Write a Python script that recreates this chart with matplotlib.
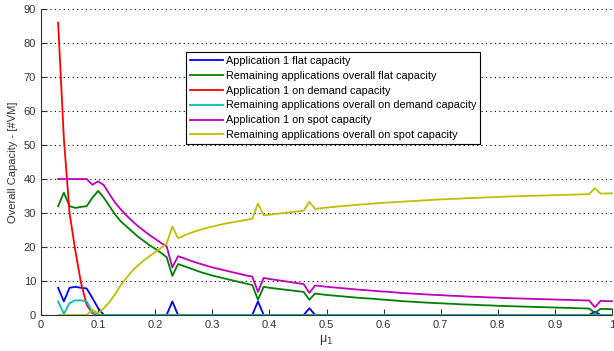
import numpy as np
import matplotlib
matplotlib.use("Agg")
import matplotlib.pyplot as plt

plt.rcParams['font.family'] = ['Liberation Sans', 'DejaVu Sans']

mu = np.round(np.arange(0.03, 1.0001, 0.01), 2)

app1_flat = ([8, 4, 8, 8.3, 8, 7.8, 5, 2] + [0] * 12 + [4] + [0] * 14 + [4] + [0] * 8
             + [2] + [0] * 49 + [1] + [0] * 3)

rem_flat = [32, 36, 32, 31.5, 31.8, 32, 34.5, 36.5, 34.5, 32, 29.5, 27.5, 26, 24.5, 23, 21.8,
            20.5, 19.5, 18.3, 17, 11.5, 15, 14.4, 13.8, 13.2, 12.6, 12.1, 11.6, 11.2, 10.8, 10.4,
            10, 9.6, 9.2, 8.8, 4.5, 8.3, 8.0, 7.8, 7.6, 7.4, 7.2, 7.0, 6.8, 4.5, 6.3, 6.1, 5.9,
            5.75, 5.6, 5.45, 5.3, 5.15, 5.0, 4.9, 4.8, 4.65, 4.5, 4.4, 4.25, 4.1, 4.0, 3.9, 3.8,
            3.7, 3.6, 3.5, 3.45, 3.35, 3.3, 3.2, 3.1, 3.05, 3.0, 2.9, 2.85, 2.8, 2.7, 2.65, 2.6,
            2.55, 2.5, 2.45, 2.4, 2.35, 2.3, 2.25, 2.2, 2.15, 2.1, 2.05, 2.0, 1.95, 1.9, 0.6,
            1.8, 1.75, 1.7]

app1_ondemand = [86, 52, 30, 19, 9.5, 3, 0.5, 0] + [0] * 90

rem_ondemand = [4, 0.3, 3.5, 4.3, 4.3, 4, 0.8, 0] + [0] * 90

app1_spot = [40, 40, 40, 40, 40, 40, 38.3, 39.3, 38.2, 35.5, 33, 31, 29.2, 27.6, 26.1, 24.8,
             23.5, 22.4, 21.2, 20.2, 14, 17.3, 16.7, 16.1, 15.5, 15, 14.5, 14, 13.6, 13.2, 12.8,
             12.4, 12.0, 11.6, 11.3, 6.8, 10.9, 10.6, 10.35, 10.1, 9.85, 9.6, 9.35, 9.1, 6.5,
             8.7, 8.5, 8.3, 8.15, 8.0, 7.85, 7.7, 7.55, 7.4, 7.3, 7.15, 7.0, 6.9, 6.8, 6.65, 6.5,
             6.4, 6.3, 6.2, 6.1, 6.0, 5.9, 5.85, 5.75, 5.65, 5.6, 5.5, 5.4, 5.35, 5.3, 5.2, 5.15,
             5.1, 5.0, 4.95, 4.9, 4.85, 4.8, 4.75, 4.7, 4.65, 4.6, 4.55, 4.5, 4.45, 4.4, 4.35,
             4.3, 4.25, 2.3, 4.15, 4.1, 4.05]

rem_spot = [0, 0, 0, 0, 0, 0, 1.5, 0.5, 2, 3.8, 6.2, 8.8, 11, 13, 14.6, 16, 17.3, 18.5, 19.7,
            21, 26, 22.6, 23.3, 24, 24.6, 25.1, 25.6, 26, 26.4, 26.8, 27.1, 27.4, 27.7, 28,
            28.3, 32.8, 29.3, 29.5, 29.7, 29.9, 30.1, 30.3, 30.5, 30.7, 33.3, 31.2, 31.4, 31.6,
            31.75, 31.9, 32.05, 32.2, 32.35, 32.5, 32.6, 32.75, 32.9, 33.0, 33.1, 33.2, 33.3,
            33.4, 33.5, 33.6, 33.7, 33.8, 33.9, 34.0, 34.05, 34.15, 34.2, 34.3, 34.4, 34.45,
            34.5, 34.6, 34.65, 34.7, 34.8, 34.85, 34.9, 34.95, 35.0, 35.05, 35.1, 35.15, 35.2,
            35.25, 35.3, 35.35, 35.4, 35.45, 35.5, 35.55, 37.3, 35.7, 35.75, 35.8]

labels = ["Application 1 flat capacity",
          "Remaining applications overall flat capacity",
          "Application 1 on demand capacity",
          "Remaining applications overall on demand capacity",
          "Application 1 on spot capacity",
          "Remaining applications overall on spot capacity"]
colors = ["#0000ff", "#008000", "#ff0000", "#00bfbf", "#bf00bf", "#bfbf00"]
series = [app1_flat, rem_flat, app1_ondemand, rem_ondemand, app1_spot, rem_spot]

fig = plt.figure(figsize=(6.14, 3.51), dpi=100)
ax = fig.add_axes([41 / 614, 1 - 315 / 351, 571 / 614, 306 / 351])

for s, c, l in zip(series, colors, labels):
    ax.plot(mu, s, color=c, lw=1.3, label=l, clip_on=False)

ax.set_xlim(0, 1)
ax.set_ylim(0, 90)
ax.set_xticks(np.arange(0, 1.01, 0.1))
ax.set_xticklabels(["0", "0.1", "0.2", "0.3", "0.4", "0.5", "0.6", "0.7", "0.8", "0.9", "1"])
ax.set_yticks(np.arange(0, 91, 10))
ax.yaxis.grid(True, linestyle=(0, (1, 3)), color="black", lw=0.8)
ax.tick_params(direction="in", labelsize=8, colors="#333333", length=4)
for sp in ["top", "right"]:
    ax.spines[sp].set_visible(False)
for sp in ["left", "bottom"]:
    ax.spines[sp].set_color("#333333")

ax.set_xlabel("μ$_1$", fontsize=9, color="#333333", labelpad=2)
ax.set_ylabel("Overall Capacity - [#VM]", fontsize=8, color="#333333", labelpad=4)

leg = fig.legend(loc="upper left", bbox_to_anchor=(186 / 614, 1 - 52 / 351),
                 borderaxespad=0, fontsize=7.8, handlelength=3.1, labelspacing=0.45,
                 borderpad=0.35, handletextpad=0.25, fancybox=False, framealpha=1)
leg.get_frame().set_edgecolor("black")
leg.get_frame().set_linewidth(0.8)

fig.savefig("out.png", dpi=100)
